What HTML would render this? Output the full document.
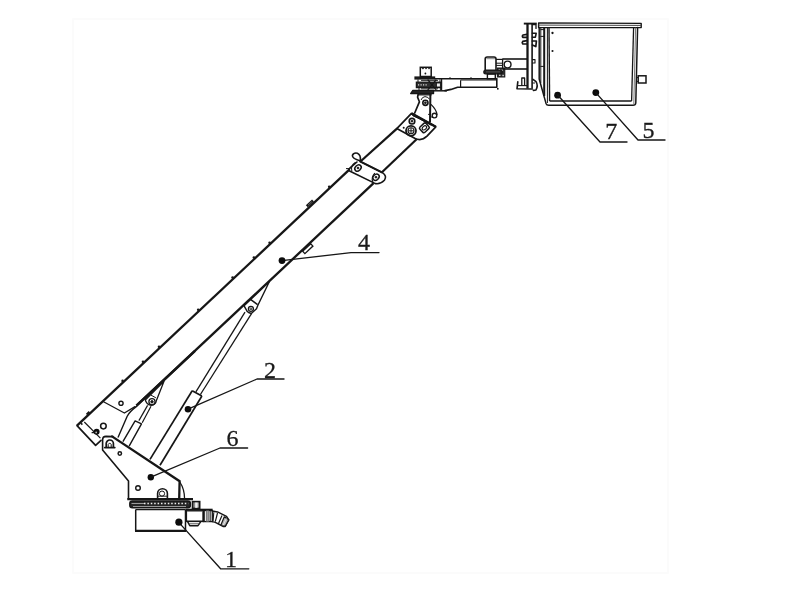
<!DOCTYPE html>
<html><head><meta charset="utf-8"><title>Boom diagram</title>
<style>
html,body{margin:0;padding:0;background:#fff;}
body{width:800px;height:600px;overflow:hidden;font-family:"Liberation Serif",serif;}
svg{display:block;filter:blur(0.45px);}
.lb{font-family:"Liberation Serif",serif;}
</style></head><body>
<svg width="800" height="600" viewBox="0 0 800 600">
<rect x="0" y="0" width="800" height="600" fill="#ffffff"/>
<rect x="73" y="19" width="595" height="554" rx="0" stroke="#fbfbfb" stroke-width="1.6" fill="none"/>
<line x1="135.7" y1="509.5" x2="135.7" y2="531" stroke="#161616" stroke-width="1.5" stroke-linecap="butt"/>
<line x1="185.5" y1="509.5" x2="185.5" y2="531" stroke="#161616" stroke-width="1.5" stroke-linecap="butt"/>
<line x1="135" y1="530.8" x2="186.2" y2="530.8" stroke="#161616" stroke-width="2.2" stroke-linecap="butt"/>
<line x1="135.7" y1="509.6" x2="185.5" y2="509.6" stroke="#161616" stroke-width="1.2" stroke-linecap="butt"/>
<line x1="127.3" y1="499.2" x2="193" y2="499.2" stroke="#161616" stroke-width="2.2" stroke-linecap="butt"/>
<rect x="129.8" y="501" width="60.6" height="6.8" rx="2.6" stroke="#161616" stroke-width="1.4" fill="#262626"/>
<line x1="131.5" y1="503.5" x2="144" y2="503.5" stroke="#cfcfcf" stroke-width="0.7" stroke-linecap="butt"/>
<line x1="144" y1="503.5" x2="188.4" y2="503.5" stroke="#ededed" stroke-width="1.5" stroke-dasharray="1.5 1.9"/>
<line x1="133" y1="506.5" x2="186" y2="506.5" stroke="#c8c8c8" stroke-width="0.7" stroke-linecap="butt"/>
<rect x="192.5" y="501.6" width="7.2" height="6.8" rx="0" stroke="#161616" stroke-width="1.6" fill="#8c8c8c"/>
<rect x="195.2" y="502.6" width="2.4" height="5.2" rx="0" stroke="#f2f2f2" stroke-width="0.1" fill="#f2f2f2"/>
<line x1="185.8" y1="509.6" x2="212.6" y2="509.6" stroke="#161616" stroke-width="1.8" stroke-linecap="butt"/>
<rect x="186.3" y="510.5" width="17" height="10.8" rx="0" stroke="#161616" stroke-width="1.6" fill="none"/>
<line x1="187" y1="511.4" x2="202.6" y2="511.4" stroke="#888" stroke-width="1.0" stroke-linecap="butt"/>
<path d="M187.6,521.6 L189.8,525.7 L198,525.7 L200.6,521.8" stroke="#161616" stroke-width="1.5" fill="none" stroke-linejoin="round" stroke-linecap="round"/>
<line x1="189" y1="523.8" x2="199.4" y2="523.8" stroke="#555" stroke-width="1.0" stroke-linecap="butt"/>
<rect x="203.3" y="510.5" width="9" height="11.1" rx="0" stroke="#161616" stroke-width="1.3" fill="none"/>
<line x1="204.6" y1="510.6" x2="204.6" y2="521.4" stroke="#161616" stroke-width="0.9" stroke-linecap="butt"/>
<rect x="206.3" y="510.7" width="2.6" height="10.8" rx="0" stroke="#555" stroke-width="0.6" fill="#9c9c9c"/>
<line x1="210.2" y1="510.6" x2="210.2" y2="521.4" stroke="#161616" stroke-width="1.0" stroke-linecap="butt"/>
<path d="M212.3,511.1 L217.5,511.9 L226.5,516.4 L228.8,519.8 L225.2,526.4 L223.4,526.5 L215.3,522.4 L212.3,521.6" stroke="#161616" stroke-width="1.5" fill="none" stroke-linejoin="round" stroke-linecap="round"/>
<line x1="213.8" y1="512.2" x2="213.1" y2="520.9" stroke="#161616" stroke-width="1.1" stroke-linecap="butt"/>
<line x1="217.5" y1="513" x2="215.3" y2="521.6" stroke="#161616" stroke-width="1.2" stroke-linecap="butt"/>
<line x1="222" y1="515.6" x2="218.3" y2="523.9" stroke="#161616" stroke-width="1.2" stroke-linecap="butt"/>
<path d="M224.3,516.8 L228.7,519.8 L225.2,526.3 L220.9,525 Z" stroke="#161616" stroke-width="1.2" fill="#b4b4b4" stroke-linejoin="round" stroke-linecap="round"/>
<line x1="226.4" y1="518.4" x2="223" y2="525.6" stroke="#eee" stroke-width="0.8" stroke-linecap="butt"/>
<path d="M128.5,499 L128.5,481 L102.6,450 L102.6,440 Q102.6,436.4 106,436.4 L113,436.6" stroke="#161616" stroke-width="1.6" fill="none" stroke-linejoin="round" stroke-linecap="round"/>
<path d="M112,436.4 L179.6,481.2 L179.2,499" stroke="#161616" stroke-width="2.3" fill="none" stroke-linejoin="miter" stroke-linecap="round"/>
<path d="M179.8,482 Q184.5,489 184.6,499" stroke="#161616" stroke-width="1.3" fill="none" stroke-linejoin="round" stroke-linecap="round"/>
<path d="M104.8,447.6 L106.2,447.4 L106.2,443.6 A3.6,3.6 0 0 1 113.4,443.6 L113.4,447.4 L114.8,447.6 Z" stroke="#161616" stroke-width="1.7" fill="none" stroke-linejoin="round" stroke-linecap="round"/>
<path d="M108.2,447.4 L108.2,444.4 A1.6,1.6 0 0 1 111.2,444.4 L111.2,447.4" stroke="#161616" stroke-width="1.0" fill="none" stroke-linejoin="round" stroke-linecap="round"/>
<circle cx="119.8" cy="453.5" r="1.7" stroke="#161616" stroke-width="1.5" fill="none"/>
<circle cx="150.8" cy="477.2" r="3.2" fill="#0c0c0c"/>
<circle cx="138" cy="488" r="2.3" stroke="#161616" stroke-width="1.4" fill="none"/>
<path d="M157.6,499 L157.6,493.6 A4.9,4.9 0 0 1 167.4,493.6 L167.4,499" stroke="#161616" stroke-width="1.6" fill="none" stroke-linejoin="round" stroke-linecap="round"/>
<circle cx="162" cy="493.6" r="2.6" stroke="#161616" stroke-width="1.0" fill="none"/>
<line x1="158" y1="496.2" x2="167" y2="496.2" stroke="#161616" stroke-width="0.9" stroke-linecap="butt"/>
<line x1="77" y1="425.6" x2="357" y2="162.4" stroke="#161616" stroke-width="2.3" stroke-linecap="butt"/>
<path d="M77,425.6 L95.6,445.4 L101,440.4" stroke="#161616" stroke-width="1.7" fill="none" stroke-linejoin="round" stroke-linecap="round"/>
<line x1="84.3" y1="422" x2="100.4" y2="438.2" stroke="#161616" stroke-width="1.2" stroke-linecap="butt"/>
<line x1="81" y1="423.2" x2="82.4" y2="424.6" stroke="#161616" stroke-width="1.6" stroke-linecap="butt"/>
<line x1="136.5" y1="405.7" x2="373.6" y2="183.2" stroke="#161616" stroke-width="2.3" stroke-linecap="butt"/>
<path d="M118.2,437 L127.2,416.2 Q129.6,411.6 136.6,406.4" stroke="#161616" stroke-width="1.4" fill="none" stroke-linejoin="round" stroke-linecap="round"/>
<path d="M104,402 L124.4,413 L135,406.6" stroke="#161616" stroke-width="1.3" fill="none" stroke-linejoin="round" stroke-linecap="round"/>
<circle cx="121" cy="403.3" r="2.1" stroke="#161616" stroke-width="1.4" fill="none"/>
<circle cx="103.4" cy="426.1" r="2.8" stroke="#161616" stroke-width="1.5" fill="none"/>
<circle cx="96.6" cy="431.8" r="3.0" fill="#0c0c0c"/>
<line x1="91.6" y1="432.6" x2="95" y2="432.6" stroke="#161616" stroke-width="1.3" stroke-linecap="butt"/>
<circle cx="96.2" cy="432.4" r="0.9" fill="#bbb"/>
<path d="M164,381.3 L145.3,400 Q146.6,404.4 150.4,405.2 Q155.6,405.6 156.6,400 Z" stroke="#161616" stroke-width="1.3" fill="#fff" stroke-linejoin="round" stroke-linecap="round"/>
<line x1="150.9" y1="395.1" x2="155.9" y2="397.8" stroke="#161616" stroke-width="1.0" stroke-linecap="butt"/>
<circle cx="152" cy="401.8" r="3.1" stroke="#161616" stroke-width="1.3" fill="none"/>
<circle cx="152" cy="401.8" r="1.2" stroke="#161616" stroke-width="1.0" fill="#161616"/>
<line x1="195" y1="350.9" x2="136.5" y2="405.7" stroke="#161616" stroke-width="2.5" stroke-linecap="butt"/>
<line x1="147.6" y1="405.4" x2="138.9" y2="420.6" stroke="#161616" stroke-width="1.2" stroke-linecap="butt"/>
<line x1="151" y1="406.2" x2="142.2" y2="422.8" stroke="#161616" stroke-width="1.2" stroke-linecap="butt"/>
<path d="M123.2,441.2 L135.1,420.9 L141.5,423.9 L129.4,445.6" stroke="#161616" stroke-width="1.4" fill="none" stroke-linejoin="round" stroke-linecap="round"/>
<circle cx="122.6" cy="380.9" r="1.3" fill="#161616"/>
<circle cx="143.0" cy="361.7" r="1.3" fill="#161616"/>
<circle cx="159.0" cy="346.7" r="1.3" fill="#161616"/>
<circle cx="198.2" cy="309.8" r="1.3" fill="#161616"/>
<circle cx="232.6" cy="277.5" r="1.3" fill="#161616"/>
<circle cx="253.9" cy="257.5" r="1.3" fill="#161616"/>
<circle cx="269.6" cy="242.7" r="1.3" fill="#161616"/>
<circle cx="329.2" cy="186.7" r="1.3" fill="#161616"/>
<rect x="-5.5" y="-1.6" width="11" height="3.2" transform="translate(307.8,248.7) rotate(-43.2)" stroke="#161616" stroke-width="1.3" fill="#fff"/>
<line x1="306.8" y1="206.2" x2="313" y2="200.4" stroke="#161616" stroke-width="2.8" stroke-linecap="butt"/>
<line x1="308" y1="205.2" x2="311.8" y2="201.6" stroke="#aaa" stroke-width="0.6" stroke-linecap="butt"/>
<line x1="86.6" y1="414.4" x2="89.4" y2="411.8" stroke="#161616" stroke-width="2.0" stroke-linecap="butt"/>
<line x1="150" y1="459.4" x2="192.2" y2="390.8" stroke="#161616" stroke-width="1.7" stroke-linecap="butt"/>
<line x1="160" y1="465.2" x2="201.9" y2="396" stroke="#161616" stroke-width="1.7" stroke-linecap="butt"/>
<line x1="192.2" y1="390.8" x2="201.9" y2="396" stroke="#161616" stroke-width="1.6" stroke-linecap="butt"/>
<line x1="195.9" y1="391.9" x2="245" y2="312.1" stroke="#161616" stroke-width="1.3" stroke-linecap="butt"/>
<line x1="200.4" y1="394.5" x2="251.5" y2="313.6" stroke="#161616" stroke-width="1.3" stroke-linecap="butt"/>
<path d="M269.3,281.8 L244.1,305.8 L247.3,311.6 Q249.4,313.6 251.6,313.2 L256.5,308.8 L258,305 Z" stroke="#161616" stroke-width="1.4" fill="#fff" stroke-linejoin="round" stroke-linecap="round"/>
<line x1="250.5" y1="299.4" x2="257.6" y2="304.6" stroke="#161616" stroke-width="1.6" stroke-linecap="butt"/>
<circle cx="250.9" cy="308.8" r="2.5" stroke="#161616" stroke-width="1.3" fill="none"/>
<circle cx="250.9" cy="308.8" r="0.9" stroke="#161616" stroke-width="0.9" fill="none"/>
<circle cx="188" cy="409.2" r="3.3" fill="#0c0c0c"/>
<path d="M360,161.4 L382.4,172.6 Q387.4,176 384.4,180.2 Q380,184.6 375.4,183.6 L349.6,171 Q348.4,169.6 350.4,167.6 L357,162" stroke="#161616" stroke-width="1.6" fill="#fff" stroke-linejoin="round" stroke-linecap="round"/>
<line x1="360" y1="161.4" x2="382.4" y2="172.6" stroke="#161616" stroke-width="2.1" stroke-linecap="butt"/>
<ellipse cx="358" cy="168" rx="3.5" ry="2.7" transform="rotate(-43 358 168)" stroke="#161616" stroke-width="1.5" fill="none"/>
<ellipse cx="376" cy="177.2" rx="3.5" ry="2.7" transform="rotate(-43 376 177.2)" stroke="#161616" stroke-width="1.5" fill="none"/>
<circle cx="358" cy="168" r="0.9" stroke="#161616" stroke-width="0.9" fill="#161616"/>
<circle cx="376" cy="177.2" r="0.9" stroke="#161616" stroke-width="0.9" fill="#161616"/>
<path d="M355,162.8 Q350.4,166 351.8,170.8" stroke="#161616" stroke-width="1.1" fill="none" stroke-linejoin="round" stroke-linecap="round"/>
<path d="M372.8,181.8 Q370.8,177.6 374.6,173.4" stroke="#161616" stroke-width="1.1" fill="none" stroke-linejoin="round" stroke-linecap="round"/>
<path d="M360.4,161 Q352,158.6 352.4,155.4 Q353.6,152.4 357.4,153.2 Q361,154.6 360.4,161" stroke="#161616" stroke-width="1.6" fill="none" stroke-linejoin="round" stroke-linecap="round"/>
<line x1="346" y1="168.6" x2="349" y2="168.6" stroke="#161616" stroke-width="1.0" stroke-linecap="butt"/>
<line x1="361" y1="161" x2="397.2" y2="128.4" stroke="#161616" stroke-width="2.2" stroke-linecap="butt"/>
<line x1="382.2" y1="172" x2="416.6" y2="139.2" stroke="#161616" stroke-width="2.2" stroke-linecap="butt"/>
<path d="M396.8,128.6 L411.5,113.4 L435.8,126.8 L427,136.2 Q421.4,141.6 414.7,138.2 Z" stroke="#161616" stroke-width="1.7" fill="#fff" stroke-linejoin="round" stroke-linecap="round"/>
<line x1="411.5" y1="113.4" x2="435.8" y2="126.8" stroke="#161616" stroke-width="2.4" stroke-linecap="butt"/>
<path d="M412,114 L422,119.4 L413.6,116.2 Z" stroke="#161616" stroke-width="1.0" fill="#161616" stroke-linejoin="round" stroke-linecap="round"/>
<line x1="413.4" y1="115.6" x2="431.2" y2="125.2" stroke="#161616" stroke-width="1.0" stroke-linecap="butt"/>
<circle cx="412" cy="121.2" r="2.8" stroke="#161616" stroke-width="1.6" fill="none"/>
<circle cx="412" cy="121.2" r="0.9" stroke="#161616" stroke-width="0.9" fill="#161616"/>
<circle cx="411" cy="130.8" r="5.0" stroke="#161616" stroke-width="1.8" fill="none"/>
<circle cx="411" cy="130.8" r="3.0" stroke="#161616" stroke-width="1.1" fill="none"/>
<line x1="408.2" y1="130.8" x2="413.8" y2="130.8" stroke="#161616" stroke-width="1.0" stroke-linecap="butt"/>
<line x1="411" y1="128" x2="411" y2="133.6" stroke="#161616" stroke-width="1.0" stroke-linecap="butt"/>
<rect x="-4.2" y="-3.6" width="8.4" height="7.2" rx="1.6" transform="translate(424.4,127.8) rotate(-43)" stroke="#161616" stroke-width="1.5" fill="none"/>
<ellipse cx="424.4" cy="127.8" rx="2.5" ry="1.7" transform="rotate(-43 424.4 127.8)" stroke="#161616" stroke-width="1.1" fill="none"/>
<circle cx="403.7" cy="127.7" r="1.0" fill="#161616"/>
<path d="M414.7,113 L419.4,101.8 L417.6,97.2 L418.2,93.8" stroke="#161616" stroke-width="1.7" fill="none" stroke-linejoin="round" stroke-linecap="round"/>
<path d="M430,121.8 L430.4,93.8" stroke="#161616" stroke-width="2.0" fill="none" stroke-linejoin="round" stroke-linecap="round"/>
<line x1="418" y1="94.8" x2="431.6" y2="94.8" stroke="#161616" stroke-width="1.3" stroke-linecap="butt"/>
<path d="M421.2,99.6 Q422,97 425,96.6 Q428.4,96.8 429.4,99" stroke="#161616" stroke-width="1.0" fill="none" stroke-linejoin="round" stroke-linecap="round"/>
<circle cx="425.4" cy="102.8" r="2.6" stroke="#161616" stroke-width="1.6" fill="none"/>
<circle cx="425.4" cy="102.8" r="0.9" stroke="#161616" stroke-width="1.0" fill="#161616"/>
<path d="M431.2,104.6 Q436.2,109.4 437,114.4" stroke="#161616" stroke-width="1.3" fill="none" stroke-linejoin="round" stroke-linecap="round"/>
<path d="M431,116.8 L433,117.6" stroke="#161616" stroke-width="1.0" fill="none" stroke-linejoin="round" stroke-linecap="round"/>
<circle cx="434.5" cy="115.6" r="2.3" stroke="#161616" stroke-width="1.4" fill="none"/>
<line x1="428" y1="114.4" x2="431" y2="114.4" stroke="#161616" stroke-width="0.9" stroke-linecap="butt"/>
<path d="M412.8,90.4 L433.6,90.4 L433.6,93.6 L410.6,93.6 Z" stroke="#161616" stroke-width="1.2" fill="#222" stroke-linejoin="round" stroke-linecap="round"/>
<line x1="433" y1="90.8" x2="447" y2="90.8" stroke="#161616" stroke-width="1.5" stroke-linecap="butt"/>
<rect x="415" y="77" width="19.6" height="2" rx="0" stroke="#161616" stroke-width="1.2" fill="#222"/>
<rect x="416.4" y="82.2" width="25" height="5.4" rx="0" stroke="#161616" stroke-width="1.3" fill="#2e2e2e"/>
<line x1="418" y1="84.9" x2="428" y2="84.9" stroke="#ddd" stroke-width="1.4" stroke-dasharray="1.2 1.3"/>
<path d="M428,80 L436,89.6 M436,80 L428,89.6" stroke="#161616" stroke-width="1.2" fill="none" stroke-linejoin="round" stroke-linecap="round"/>
<line x1="418" y1="79.4" x2="418" y2="82" stroke="#161616" stroke-width="1" stroke-linecap="butt"/>
<line x1="440" y1="79.4" x2="440" y2="82" stroke="#161616" stroke-width="1" stroke-linecap="butt"/>
<line x1="419" y1="87.6" x2="419" y2="90" stroke="#161616" stroke-width="1" stroke-linecap="butt"/>
<line x1="440.4" y1="87.6" x2="440.4" y2="90" stroke="#161616" stroke-width="1" stroke-linecap="butt"/>
<rect x="436.4" y="83" width="4" height="4" rx="0" stroke="#161616" stroke-width="0.9" fill="#eee"/>
<line x1="421" y1="80.4" x2="438" y2="80.4" stroke="#161616" stroke-width="0.9" stroke-linecap="butt"/>
<line x1="421" y1="88.8" x2="438" y2="88.8" stroke="#161616" stroke-width="0.9" stroke-linecap="butt"/>
<rect x="420.3" y="67.3" width="10.9" height="9.2" rx="0" stroke="#161616" stroke-width="1.5" fill="none"/>
<path d="M421,67.6 L423,69.4 L424.6,67.6 L426,69.4 L427.6,67.6 L429,69.4 L430.6,67.6 Z" fill="#161616"/>
<circle cx="425.4" cy="73.5" r="0.9" fill="#161616"/>
<line x1="434.6" y1="78.7" x2="496.8" y2="78.7" stroke="#161616" stroke-width="1.5" stroke-linecap="butt"/>
<path d="M445,90.6 L451,89.4 L457.6,87.2 L496.8,87.2 L496.8,78.6" stroke="#161616" stroke-width="1.6" fill="none" stroke-linejoin="round" stroke-linecap="round"/>
<line x1="460.6" y1="80.2" x2="460.6" y2="87.2" stroke="#161616" stroke-width="1.2" stroke-linecap="butt"/>
<line x1="460.6" y1="80.0" x2="496.8" y2="80.0" stroke="#161616" stroke-width="1.0" stroke-linecap="butt"/>
<line x1="441.6" y1="79" x2="441.6" y2="90" stroke="#161616" stroke-width="1.2" stroke-linecap="butt"/>
<circle cx="450" cy="78" r="0.8" fill="#161616"/><circle cx="471" cy="78" r="0.8" fill="#161616"/>
<rect x="497" y="88" width="1.6" height="1.6" fill="#161616"/>
<path d="M485.2,69.8 L485.2,59 Q485.2,57 487.2,57 L494,57 Q496,57 496,59 L496,69.8" stroke="#161616" stroke-width="1.6" fill="none" stroke-linejoin="round" stroke-linecap="round"/>
<line x1="486.4" y1="58.7" x2="495" y2="58.7" stroke="#666" stroke-width="0.8" stroke-linecap="butt"/>
<rect x="497.4" y="68" width="7.4" height="9" rx="0" stroke="#161616" stroke-width="1.0" fill="#2c2c2c"/>
<rect x="498.6" y="69" width="1.6" height="1.4" fill="#ddd"/><rect x="501.6" y="69.4" width="1.4" height="1.4" fill="#ddd"/><rect x="499" y="74.4" width="1.5" height="1.5" fill="#ddd"/><rect x="502.4" y="74.8" width="1.4" height="1.4" fill="#ddd"/>
<rect x="483.8" y="70" width="18.4" height="3.8" rx="1.9" stroke="#161616" stroke-width="1.2" fill="#222"/>
<line x1="486" y1="71.9" x2="500" y2="71.9" stroke="#777" stroke-width="0.6" stroke-linecap="butt"/>
<rect x="487.4" y="74" width="7.9" height="4.8" rx="0" stroke="#161616" stroke-width="1.4" fill="none"/>
<line x1="496" y1="59.4" x2="502.4" y2="59.4" stroke="#161616" stroke-width="1.2" stroke-linecap="butt"/>
<line x1="496" y1="63.2" x2="502.4" y2="63.2" stroke="#161616" stroke-width="1.0" stroke-linecap="butt"/>
<line x1="496" y1="65.4" x2="502.4" y2="65.4" stroke="#161616" stroke-width="1.0" stroke-linecap="butt"/>
<line x1="502.4" y1="59" x2="527" y2="59" stroke="#161616" stroke-width="1.6" stroke-linecap="butt"/>
<line x1="502.4" y1="69" x2="527" y2="69" stroke="#161616" stroke-width="1.6" stroke-linecap="butt"/>
<line x1="502.6" y1="58.8" x2="502.6" y2="68.8" stroke="#161616" stroke-width="1.3" stroke-linecap="butt"/>
<circle cx="507.6" cy="64.5" r="3.4" stroke="#161616" stroke-width="1.4" fill="none"/>
<line x1="523.8" y1="23.6" x2="536.8" y2="23.6" stroke="#161616" stroke-width="1.9" stroke-linecap="butt"/>
<line x1="527.5" y1="23.2" x2="527.5" y2="88.6" stroke="#161616" stroke-width="2.3" stroke-linecap="butt"/>
<line x1="532.1" y1="24" x2="532.1" y2="88.6" stroke="#161616" stroke-width="1.6" stroke-linecap="butt"/>
<path d="M532.4,24.6 L536,24.6 L536,28.4" stroke="#161616" stroke-width="1.3" fill="none" stroke-linejoin="round" stroke-linecap="round"/>
<path d="M527,34.4 L523,35 Q521.8,36.2 523,37.4 L527,37.4" stroke="#161616" stroke-width="1.7" fill="none" stroke-linejoin="round" stroke-linecap="round"/>
<path d="M527,40.6 L522.8,41.4 Q521.6,42.8 522.8,44 L527,44" stroke="#161616" stroke-width="1.7" fill="none" stroke-linejoin="round" stroke-linecap="round"/>
<path d="M532.4,33.2 L536.2,33.2 L535.4,37.2 L532.4,37.2" stroke="#161616" stroke-width="1.6" fill="none" stroke-linejoin="round" stroke-linecap="round"/>
<path d="M532.4,41 L536.4,41 L535.8,46.6 L532.4,45" stroke="#161616" stroke-width="1.7" fill="none" stroke-linejoin="round" stroke-linecap="round"/>
<path d="M532.6,59.6 L535,59.6 L535,63 L532.6,63" stroke="#161616" stroke-width="1.1" fill="none" stroke-linejoin="round" stroke-linecap="round"/>
<path d="M517.8,81.8 L517,88.8 L532.4,89" stroke="#161616" stroke-width="1.6" fill="none" stroke-linejoin="round" stroke-linecap="round"/>
<path d="M521.8,85.2 L521.8,78 L524.6,78 L524.6,85.2" stroke="#161616" stroke-width="1.3" fill="none" stroke-linejoin="round" stroke-linecap="round"/>
<line x1="518" y1="85.6" x2="527" y2="85.6" stroke="#161616" stroke-width="1.1" stroke-linecap="butt"/>
<path d="M533,79.4 L536,81.6 Q538.4,85.4 536,90 L533.4,90.4" stroke="#161616" stroke-width="1.6" fill="none" stroke-linejoin="round" stroke-linecap="round"/>
<line x1="532.4" y1="83" x2="535" y2="83" stroke="#161616" stroke-width="1" stroke-linecap="butt"/>
<path d="M538.6,22.9 L641.2,23.4 L641.2,27.6 L538.6,27.6 Z" stroke="#161616" stroke-width="1.4" fill="none" stroke-linejoin="round" stroke-linecap="round"/>
<line x1="538.6" y1="25.1" x2="641" y2="25.4" stroke="#444" stroke-width="1.0" stroke-linecap="butt"/>
<path d="M539.2,27.6 L539.2,79 L540.6,84 L546,103.4 Q546.6,105.2 548.6,105.2 L633,105.2 Q635.6,105.2 635.8,103 L637.6,27.6" stroke="#161616" stroke-width="1.5" fill="none" stroke-linejoin="round" stroke-linecap="round"/>
<line x1="540.8" y1="27.6" x2="540.8" y2="83" stroke="#161616" stroke-width="1.0" stroke-linecap="butt"/>
<line x1="544.2" y1="27.6" x2="544.2" y2="96" stroke="#161616" stroke-width="2.0" stroke-linecap="butt"/>
<line x1="547.4" y1="27.6" x2="547.4" y2="103" stroke="#161616" stroke-width="1.0" stroke-linecap="butt"/>
<line x1="549" y1="27.6" x2="549.6" y2="101" stroke="#161616" stroke-width="1.4" stroke-linecap="butt"/>
<line x1="549.6" y1="101" x2="631.6" y2="101" stroke="#161616" stroke-width="1.3" stroke-linecap="butt"/>
<line x1="633.6" y1="27.6" x2="631.6" y2="101" stroke="#161616" stroke-width="1.3" stroke-linecap="butt"/>
<line x1="635.6" y1="27.6" x2="633.8" y2="104" stroke="#555" stroke-width="0.8" stroke-linecap="butt"/>
<path d="M540.8,29.6 L544.2,29.6 M540.8,36.4 L544.2,36.4 M540.8,66.4 L544.2,66.4" stroke="#161616" stroke-width="1.0" fill="none" stroke-linejoin="round" stroke-linecap="round"/>
<circle cx="552.5" cy="33" r="1.15" fill="#161616"/><circle cx="552.5" cy="51" r="1.05" fill="#161616"/>
<rect x="638.2" y="75.8" width="7.8" height="7.2" rx="0" stroke="#161616" stroke-width="1.5" fill="none"/>
<line x1="636.4" y1="77.6" x2="638" y2="77.6" stroke="#161616" stroke-width="1" stroke-linecap="butt"/>
<line x1="636.4" y1="81.4" x2="638" y2="81.4" stroke="#161616" stroke-width="1" stroke-linecap="butt"/>
<circle cx="557.6" cy="95.2" r="3.4" fill="#0c0c0c"/>
<circle cx="595.8" cy="92.6" r="3.4" fill="#0c0c0c"/>
<path d="M557.6,95 L600,142 L627,142" stroke="#161616" stroke-width="1.35" fill="none" stroke-linejoin="round" stroke-linecap="round"/>
<path d="M595.8,92.6 L638,140 L665,140" stroke="#161616" stroke-width="1.35" fill="none" stroke-linejoin="round" stroke-linecap="round"/>
<path d="M282,260.6 Q322,256 351,252.6 L379,252.6" stroke="#161616" stroke-width="1.35" fill="none" stroke-linejoin="round" stroke-linecap="round"/>
<path d="M188,409.2 L257,379 L284,379" stroke="#161616" stroke-width="1.35" fill="none" stroke-linejoin="round" stroke-linecap="round"/>
<path d="M150.8,477.2 L220,448 L247.6,448" stroke="#161616" stroke-width="1.35" fill="none" stroke-linejoin="round" stroke-linecap="round"/>
<path d="M178.8,522.4 L220.6,568.8 L248.8,568.8" stroke="#161616" stroke-width="1.35" fill="none" stroke-linejoin="round" stroke-linecap="round"/>
<circle cx="282" cy="260.6" r="3.4" fill="#0c0c0c"/>
<circle cx="178.9" cy="522.2" r="3.6" fill="#0c0c0c"/>
<text x="605.2" y="139" class="lb" font-size="24" fill="#1a1a1a" stroke="#1a1a1a" stroke-width="0.3">7</text>
<text x="642.6" y="138" class="lb" font-size="24" fill="#1a1a1a" stroke="#1a1a1a" stroke-width="0.3">5</text>
<text x="358" y="250.4" class="lb" font-size="24" fill="#1a1a1a" stroke="#1a1a1a" stroke-width="0.3">4</text>
<text x="264" y="378" class="lb" font-size="24" fill="#1a1a1a" stroke="#1a1a1a" stroke-width="0.3">2</text>
<text x="226.6" y="445.6" class="lb" font-size="24" fill="#1a1a1a" stroke="#1a1a1a" stroke-width="0.3">6</text>
<text x="225" y="567.4" class="lb" font-size="24" fill="#1a1a1a" stroke="#1a1a1a" stroke-width="0.3">1</text>
</svg>
</body></html>
